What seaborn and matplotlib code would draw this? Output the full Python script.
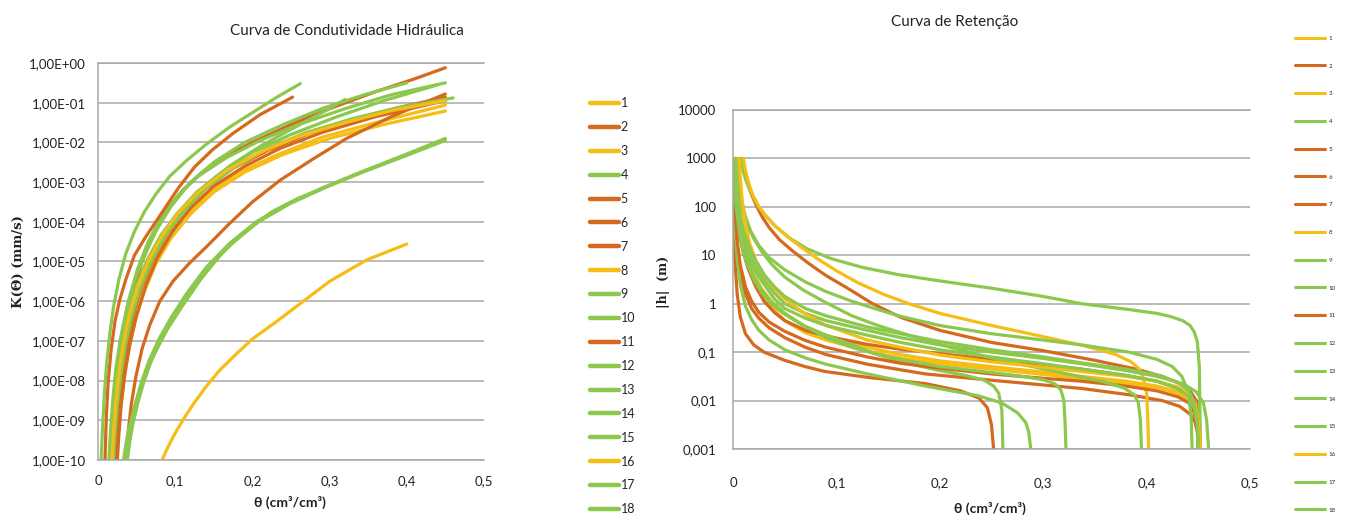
import matplotlib
matplotlib.use("Agg")
import matplotlib.pyplot as plt
import pandas as pd
import seaborn as sns

# sample ids and their colours (as in the legend)
samples = [str(i) for i in range(1, 19)]
YEL, ORA, GRN = "#F6BD16", "#D5691D", "#8CC84E"
sample_colors = [YEL, ORA, YEL, GRN, ORA, ORA, ORA, YEL, GRN,
                 GRN, ORA, GRN, GRN, GRN, GRN, YEL, GRN, GRN]

# conductivity curves: theta and log10 of K (mm/s)
cond_theta = {
    "1": [0.02, 0.022, 0.025, 0.03, 0.036, 0.044, 0.055, 0.068, 0.085, 0.11, 0.14, 0.18, 0.23, 0.29, 0.36, 0.45],
    "2": [0.02, 0.022, 0.025, 0.03, 0.036, 0.045, 0.057, 0.072, 0.09, 0.11, 0.135, 0.165, 0.2, 0.25, 0.3,
          0.36, 0.41, 0.45],
    "3": [0.024, 0.026, 0.029, 0.034, 0.04, 0.048, 0.06, 0.075, 0.095, 0.12, 0.15, 0.19, 0.24, 0.3, 0.37, 0.45],
    "4": [0.015, 0.017, 0.02, 0.025, 0.031, 0.04, 0.051, 0.065, 0.083, 0.105, 0.13, 0.165, 0.21, 0.26, 0.32,
          0.38, 0.45],
    "5": [0.009, 0.0105, 0.013, 0.017, 0.022, 0.028, 0.036, 0.047, 0.061, 0.08, 0.104, 0.125, 0.148, 0.175,
          0.21, 0.252],
    "6": [0.036, 0.039, 0.043, 0.049, 0.057, 0.067, 0.08, 0.097, 0.118, 0.142, 0.17, 0.2, 0.236, 0.28, 0.322,
          0.38, 0.45],
    "7": [0.025, 0.027, 0.03, 0.035, 0.041, 0.05, 0.062, 0.077, 0.096, 0.12, 0.15, 0.19, 0.236, 0.29, 0.36, 0.45],
    "8": [0.083, 0.088, 0.095, 0.103, 0.113, 0.125, 0.14, 0.157, 0.178, 0.2, 0.23, 0.262, 0.3, 0.348, 0.40],
    "9": [0.004, 0.0055, 0.008, 0.011, 0.015, 0.02, 0.027, 0.036, 0.047, 0.06, 0.075, 0.093, 0.115, 0.14,
          0.17, 0.2, 0.23, 0.262],
    "10": [0.033, 0.036, 0.04, 0.046, 0.054, 0.063, 0.075, 0.09, 0.11, 0.133, 0.16, 0.19, 0.225, 0.26, 0.287],
    "11": [0.022, 0.024, 0.027, 0.032, 0.038, 0.046, 0.057, 0.071, 0.089, 0.112, 0.14, 0.175, 0.22, 0.27,
           0.33, 0.39, 0.45],
    "12": [0.015, 0.017, 0.02, 0.024, 0.03, 0.038, 0.048, 0.06, 0.075, 0.093, 0.115, 0.14, 0.17, 0.21, 0.255,
           0.29, 0.32],
    "13": [0.014, 0.016, 0.019, 0.023, 0.029, 0.037, 0.047, 0.06, 0.076, 0.095, 0.12, 0.15, 0.19, 0.24, 0.29,
           0.345, 0.4],
    "14": [0.016, 0.018, 0.021, 0.025, 0.031, 0.039, 0.05, 0.064, 0.081, 0.102, 0.128, 0.16, 0.2, 0.25, 0.31,
           0.37, 0.44],
    "15": [0.02, 0.022, 0.025, 0.03, 0.036, 0.044, 0.055, 0.069, 0.087, 0.11, 0.14, 0.175, 0.22, 0.27, 0.33,
           0.39, 0.46],
    "16": [0.018, 0.02, 0.023, 0.027, 0.033, 0.041, 0.052, 0.066, 0.083, 0.105, 0.133, 0.167, 0.21, 0.26, 0.32,
           0.38, 0.45],
    "17": [0.035, 0.038, 0.042, 0.048, 0.056, 0.066, 0.079, 0.095, 0.115, 0.14, 0.17, 0.205, 0.245, 0.29, 0.34,
           0.395, 0.45],
    "18": [0.038, 0.041, 0.045, 0.051, 0.059, 0.069, 0.082, 0.098, 0.118, 0.143, 0.173, 0.208, 0.248, 0.293,
           0.343, 0.397, 0.45],
}
cond_log10k = {
    "1": [-10, -9.4, -8.8, -7.9, -7.2, -6.5, -5.75, -5.15, -4.55, -3.9, -3.33, -2.78, -2.33, -1.87, -1.5, -1.06],
    "2": [-10, -9.3, -8.5, -7.5, -6.7, -5.8, -5.0, -4.3, -3.7, -3.2, -2.75, -2.35, -2.0, -1.55, -1.15, -0.72,
          -0.4, -0.12],
    "3": [-10, -9.4, -8.7, -7.9, -7.2, -6.5, -5.75, -5.05, -4.4, -3.8, -3.25, -2.75, -2.3, -1.9, -1.55, -1.21],
    "4": [-10, -9.3, -8.5, -7.6, -6.8, -5.95, -5.2, -4.5, -3.85, -3.3, -2.85, -2.4, -1.95, -1.55, -1.15, -0.8, -0.5],
    "5": [-10, -9.0, -8.06, -7.2, -6.5, -5.97, -5.45, -4.85, -4.4, -3.85, -3.15, -2.62, -2.19, -1.77, -1.3, -0.86],
    "6": [-10, -9.3, -8.6, -7.9, -7.2, -6.6, -6.0, -5.5, -5.05, -4.6, -4.05, -3.5, -2.95, -2.4, -1.9, -1.35, -0.78],
    "7": [-10, -9.35, -8.6, -7.8, -7.1, -6.35, -5.6, -4.9, -4.25, -3.65, -3.1, -2.6, -2.15, -1.75, -1.35, -0.95],
    "8": [-10, -9.78, -9.5, -9.22, -8.9, -8.55, -8.15, -7.75, -7.35, -6.95, -6.53, -6.06, -5.5, -4.96, -4.56],
    "9": [-10, -9.3, -8.4, -7.6, -6.85, -6.15, -5.45, -4.8, -4.25, -3.75, -3.3, -2.85, -2.45, -2.05, -1.62,
          -1.25, -0.88, -0.52],
    "10": [-10, -9.6, -9.2, -8.75, -8.25, -7.75, -7.25, -6.7, -6.1, -5.45, -4.8, -4.25, -3.75, -3.4, -3.2],
    "11": [-10, -9.35, -8.6, -7.8, -7.05, -6.3, -5.6, -4.95, -4.3, -3.7, -3.15, -2.65, -2.2, -1.8, -1.42,
           -1.12, -0.86],
    "12": [-10, -9.3, -8.5, -7.75, -7.0, -6.3, -5.7, -5.2, -4.7, -4.15, -3.6, -3.1, -2.6, -2.1, -1.62, -1.25, -0.92],
    "13": [-10, -9.3, -8.5, -7.7, -6.95, -6.2, -5.5, -4.85, -4.2, -3.6, -3.0, -2.5, -2.0, -1.55, -1.15, -0.8, -0.5],
    "14": [-10, -9.3, -8.5, -7.75, -7.0, -6.3, -5.6, -4.95, -4.35, -3.8, -3.25, -2.75, -2.25, -1.8, -1.35,
           -0.95, -0.55],
    "15": [-10, -9.35, -8.6, -7.8, -7.05, -6.35, -5.65, -5.0, -4.35, -3.75, -3.15, -2.65, -2.15, -1.75, -1.4,
           -1.12, -0.88],
    "16": [-10, -9.3, -8.55, -7.8, -7.05, -6.3, -5.6, -4.95, -4.35, -3.75, -3.2, -2.7, -2.25, -1.85, -1.5,
           -1.2, -0.95],
    "17": [-10, -9.55, -9.1, -8.6, -8.05, -7.5, -6.95, -6.4, -5.8, -5.15, -4.55, -4.0, -3.55, -3.15, -2.75,
           -2.33, -1.9],
    "18": [-10, -9.55, -9.1, -8.6, -8.05, -7.5, -6.95, -6.4, -5.8, -5.15, -4.55, -4.0, -3.55, -3.15, -2.75,
           -2.35, -1.95],
}

# retention curves: theta and log10 of |h| (m)
ret_theta = {
    "1": [0.004, 0.005, 0.007, 0.01, 0.015, 0.02, 0.028, 0.038, 0.05, 0.07, 0.09, 0.13, 0.162, 0.2, 0.25, 0.3,
          0.337, 0.38, 0.41, 0.43, 0.441, 0.447, 0.45, 0.452],
    "2": [0.008, 0.01, 0.013, 0.017, 0.022, 0.028, 0.035, 0.045, 0.057, 0.072, 0.09, 0.11, 0.135, 0.162, 0.2,
          0.25, 0.3, 0.35, 0.39, 0.415, 0.432, 0.442, 0.448, 0.451, 0.452],
    "3": [0.002, 0.003, 0.005, 0.008, 0.012, 0.017, 0.022, 0.03, 0.04, 0.05, 0.07, 0.09, 0.13, 0.162, 0.2, 0.25,
          0.3, 0.337, 0.38, 0.41, 0.43, 0.441, 0.446, 0.449, 0.45],
    "4": [0.007, 0.009, 0.012, 0.016, 0.02, 0.025, 0.031, 0.041, 0.055, 0.072, 0.095, 0.125, 0.16, 0.2, 0.25,
          0.3, 0.337, 0.383, 0.41, 0.424, 0.435, 0.442, 0.446, 0.449, 0.451, 0.452],
    "5": [0.0, 0.0005, 0.001, 0.002, 0.004, 0.007, 0.012, 0.02, 0.03, 0.05, 0.07, 0.089, 0.13, 0.186, 0.22,
          0.238, 0.246, 0.25, 0.252],
    "6": [0.0, 0.001, 0.003, 0.006, 0.01, 0.015, 0.022, 0.03, 0.04, 0.05, 0.07, 0.09, 0.13, 0.162, 0.2, 0.25,
          0.3, 0.337, 0.38, 0.41, 0.43, 0.441, 0.447, 0.45, 0.451],
    "7": [0.0, 0.001, 0.002, 0.004, 0.007, 0.012, 0.018, 0.025, 0.035, 0.05, 0.07, 0.09, 0.13, 0.186, 0.25,
          0.337, 0.383, 0.415, 0.432, 0.442, 0.447, 0.449, 0.45],
    "8": [0.01, 0.012, 0.015, 0.019, 0.025, 0.032, 0.041, 0.057, 0.08, 0.1, 0.121, 0.145, 0.17, 0.2, 0.25, 0.3,
          0.34, 0.37, 0.385, 0.393, 0.397, 0.4, 0.401, 0.402],
    "9": [0.0, 0.001, 0.003, 0.006, 0.01, 0.015, 0.02, 0.028, 0.038, 0.05, 0.068, 0.09, 0.115, 0.14, 0.162,
          0.2, 0.225, 0.243, 0.252, 0.257, 0.26, 0.261],
    "10": [0.0, 0.001, 0.002, 0.004, 0.007, 0.012, 0.018, 0.025, 0.035, 0.05, 0.07, 0.09, 0.13, 0.186, 0.237,
           0.26, 0.275, 0.283, 0.286, 0.288],
    "11": [0.0, 0.001, 0.002, 0.004, 0.007, 0.012, 0.018, 0.025, 0.035, 0.05, 0.07, 0.09, 0.13, 0.162, 0.2,
           0.25, 0.3, 0.337, 0.38, 0.41, 0.43, 0.441, 0.446, 0.449, 0.45],
    "12": [0.0, 0.001, 0.003, 0.006, 0.01, 0.015, 0.02, 0.028, 0.038, 0.05, 0.068, 0.09, 0.115, 0.14, 0.162,
           0.2, 0.25, 0.28, 0.3, 0.311, 0.317, 0.32, 0.321, 0.322],
    "13": [0.002, 0.004, 0.006, 0.009, 0.013, 0.02, 0.028, 0.038, 0.05, 0.068, 0.09, 0.115, 0.14, 0.17, 0.21,
           0.25, 0.29, 0.33, 0.36, 0.378, 0.388, 0.392, 0.394, 0.395],
    "14": [0.003, 0.005, 0.008, 0.012, 0.017, 0.025, 0.035, 0.05, 0.07, 0.09, 0.115, 0.14, 0.162, 0.2, 0.25,
           0.3, 0.337, 0.383, 0.41, 0.425, 0.434, 0.44, 0.443, 0.444],
    "15": [0.0, 0.001, 0.003, 0.006, 0.01, 0.015, 0.022, 0.03, 0.04, 0.05, 0.07, 0.09, 0.13, 0.162, 0.2, 0.25,
           0.3, 0.337, 0.38, 0.41, 0.435, 0.448, 0.455, 0.458, 0.46],
    "16": [0.006, 0.007, 0.009, 0.012, 0.016, 0.022, 0.03, 0.04, 0.05, 0.07, 0.09, 0.13, 0.162, 0.2, 0.25, 0.3,
           0.337, 0.38, 0.41, 0.43, 0.441, 0.447, 0.45, 0.452],
    "17": [0.0, 0.001, 0.003, 0.006, 0.01, 0.015, 0.022, 0.03, 0.04, 0.05, 0.07, 0.09, 0.13, 0.162, 0.2, 0.25,
           0.3, 0.337, 0.38, 0.41, 0.43, 0.441, 0.446, 0.449, 0.45],
    "18": [0.001, 0.002, 0.004, 0.007, 0.011, 0.016, 0.022, 0.03, 0.04, 0.05, 0.07, 0.09, 0.13, 0.162, 0.2,
           0.25, 0.3, 0.337, 0.38, 0.41, 0.43, 0.441, 0.446, 0.449, 0.45],
}
ret_log10h = {
    "1": [3, 2.5, 1.9, 1.45, 0.95, 0.62, 0.3, 0.03, -0.2, -0.47, -0.65, -0.9, -1.05, -1.18, -1.3, -1.41, -1.5,
          -1.6, -1.7, -1.82, -1.95, -2.15, -2.45, -3],
    "2": [3, 2.8, 2.55, 2.3, 2.05, 1.8, 1.57, 1.32, 1.1, 0.85, 0.58, 0.33, 0.0, -0.28, -0.55, -0.8, -0.97,
          -1.17, -1.35, -1.5, -1.65, -1.8, -2.0, -2.4, -3],
    "3": [3, 2.5, 2.0, 1.5, 1.1, 0.75, 0.5, 0.15, -0.13, -0.35, -0.6, -0.75, -0.98, -1.12, -1.24, -1.35, -1.46,
          -1.55, -1.64, -1.73, -1.85, -2.0, -2.2, -2.5, -3],
    "4": [3, 2.8, 2.58, 2.36, 2.18, 2.0, 1.83, 1.6, 1.35, 1.13, 0.93, 0.75, 0.6, 0.47, 0.32, 0.15, 0.0, -0.12,
          -0.2, -0.27, -0.35, -0.45, -0.58, -0.78, -1.3, -3],
    "5": [3, 2.2, 1.5, 0.85, 0.2, -0.27, -0.62, -0.85, -1.0, -1.17, -1.3, -1.4, -1.52, -1.65, -1.8, -1.95,
          -2.15, -2.5, -3],
    "6": [3, 2.6, 2.0, 1.45, 1.05, 0.7, 0.35, 0.05, -0.18, -0.35, -0.55, -0.67, -0.84, -0.94, -1.03, -1.15,
          -1.26, -1.35, -1.48, -1.6, -1.75, -1.9, -2.1, -2.4, -3],
    "7": [3, 2.4, 1.8, 1.2, 0.65, 0.2, -0.1, -0.3, -0.5, -0.7, -0.9, -1.05, -1.25, -1.45, -1.58, -1.75, -1.88,
          -2.0, -2.12, -2.28, -2.45, -2.65, -3],
    "8": [3, 2.75, 2.5, 2.25, 2.0, 1.8, 1.6, 1.31, 0.95, 0.68, 0.43, 0.2, 0.0, -0.2, -0.45, -0.68, -0.87,
          -1.05, -1.2, -1.35, -1.55, -1.85, -2.3, -3],
    "9": [3, 2.5, 1.9, 1.45, 1.05, 0.75, 0.5, 0.22, -0.02, -0.22, -0.45, -0.65, -0.85, -1.05, -1.2, -1.38,
          -1.48, -1.58, -1.7, -1.85, -2.2, -3],
    "10": [3, 2.2, 1.6, 0.95, 0.4, -0.05, -0.33, -0.55, -0.75, -0.95, -1.12, -1.25, -1.45, -1.7, -1.9, -2.05,
           -2.25, -2.45, -2.65, -3],
    "11": [3, 2.5, 1.9, 1.3, 0.8, 0.35, 0.05, -0.18, -0.38, -0.57, -0.76, -0.9, -1.1, -1.23, -1.33, -1.45,
           -1.54, -1.6, -1.7, -1.8, -1.92, -2.05, -2.25, -2.55, -3],
    "12": [3, 2.6, 2.0, 1.5, 1.1, 0.8, 0.55, 0.27, 0.02, -0.2, -0.45, -0.7, -0.9, -1.05, -1.15, -1.3, -1.42,
           -1.5, -1.57, -1.65, -1.78, -2.0, -2.4, -3],
    "13": [3, 2.6, 2.3, 1.95, 1.65, 1.35, 1.07, 0.8, 0.55, 0.28, 0.02, -0.25, -0.45, -0.65, -0.9, -1.12, -1.3,
           -1.48, -1.62, -1.74, -1.88, -2.05, -2.4, -3],
    "14": [3, 2.55, 2.15, 1.8, 1.5, 1.2, 0.95, 0.7, 0.45, 0.25, 0.05, -0.12, -0.26, -0.45, -0.62, -0.75, -0.85,
           -1.0, -1.15, -1.3, -1.5, -1.8, -2.3, -3],
    "15": [3, 2.6, 2.15, 1.7, 1.35, 1.05, 0.75, 0.5, 0.22, 0.0, -0.2, -0.35, -0.55, -0.7, -0.85, -1.0, -1.13,
           -1.24, -1.38, -1.5, -1.65, -1.82, -2.05, -2.4, -3],
    "16": [3, 2.6, 2.1, 1.65, 1.25, 0.9, 0.6, 0.32, 0.1, -0.22, -0.45, -0.75, -0.9, -1.06, -1.2, -1.31, -1.4,
           -1.5, -1.6, -1.72, -1.87, -2.05, -2.4, -3],
    "17": [3, 2.55, 2.05, 1.6, 1.25, 0.95, 0.65, 0.4, 0.1, -0.1, -0.3, -0.45, -0.65, -0.8, -0.95, -1.1, -1.24,
           -1.35, -1.48, -1.6, -1.75, -1.92, -2.15, -2.5, -3],
    "18": [3, 2.6, 2.2, 1.8, 1.45, 1.15, 0.88, 0.6, 0.35, 0.15, -0.1, -0.25, -0.48, -0.62, -0.78, -0.95, -1.1,
           -1.22, -1.35, -1.47, -1.62, -1.8, -2.05, -2.4, -3],
}

x_ticks = [0, 0.1, 0.2, 0.3, 0.4, 0.5]
x_tick_labels = ["0", "0,1", "0,2", "0,3", "0,4", "0,5"]
k_ticks = [1e-10, 1e-9, 1e-8, 1e-7, 1e-6, 1e-5, 1e-4, 1e-3, 1e-2, 1e-1, 1e0]
k_tick_labels = ["1,00E-10", "1,00E-09", "1,00E-08", "1,00E-07", "1,00E-06", "1,00E-05",
                 "1,00E-04", "1,00E-03", "1,00E-02", "1,00E-01", "1,00E+00"]
h_ticks = [0.001, 0.01, 0.1, 1, 10, 100, 1000, 10000]
h_tick_labels = ["0,001", "0,01", "0,1", "1", "10", "100", "1000", "10000"]

palette = dict(zip(samples, sample_colors))

cond_df = pd.concat(
    [pd.DataFrame({"sample": s, "theta": cond_theta[s],
                   "K": [10 ** v for v in cond_log10k[s]]}) for s in samples]
)
ret_df = pd.concat(
    [pd.DataFrame({"sample": s, "theta": ret_theta[s],
                   "h": [10 ** v for v in ret_log10h[s]]}) for s in samples]
)

sns.set_style("white")
plt.rcParams["font.family"] = ["Lato", "DejaVu Sans"]

fig = plt.figure(figsize=(13.47, 5.21), dpi=100)
ax1 = fig.add_axes([0.0728, 0.1171, 0.2865, 0.762])
ax2 = fig.add_axes([0.5442, 0.1382, 0.3838, 0.6507])

grid_c = "#a8a8a8"


def style_axis(ax, yticks, ylabels, ylim, xpad, ypad):
    ax.set_yscale("log")
    ax.set_xlim(0, 0.5)
    ax.set_ylim(*ylim)
    ax.set_yticks(yticks)
    ax.set_yticklabels(ylabels)
    ax.minorticks_off()
    ax.set_xticks(x_ticks)
    ax.set_xticklabels(x_tick_labels)
    ax.tick_params(axis="both", length=0, labelsize=9.5, colors="#222222")
    ax.tick_params(axis="x", pad=xpad)
    ax.tick_params(axis="y", pad=ypad)
    ax.yaxis.grid(True, color=grid_c, lw=1.1)
    ax.xaxis.grid(False)
    ax.spines["right"].set_visible(False)
    for s in ["left", "top", "bottom"]:
        ax.spines[s].set_color(grid_c)
        ax.spines[s].set_linewidth(1.1)
    ax.set_xlabel("")
    ax.set_ylabel("")


sns.lineplot(data=cond_df, x="theta", y="K", hue="sample", hue_order=samples,
             palette=palette, estimator=None, sort=False, lw=2.3, ax=ax1)
style_axis(ax1, k_ticks, k_tick_labels, (1e-10, 1), 11, 9)

sns.lineplot(data=ret_df, x="theta", y="h", hue="sample", hue_order=samples,
             palette=palette, estimator=None, sort=False, lw=2.3, ax=ax2)
style_axis(ax2, h_ticks, h_tick_labels, (0.001, 10000), 20, 12)

handles, labels = ax1.get_legend_handles_labels()
ax1.get_legend().remove()
ax2.get_legend().remove()

leg1 = fig.legend(handles, labels, loc="upper left", bbox_to_anchor=(0.438, 0.813),
                  frameon=False, fontsize=9, handlelength=2.3, handletextpad=0.15,
                  labelspacing=0.95, borderpad=0, borderaxespad=0)
for ln in leg1.get_lines():
    ln.set_linewidth(3.2)

leg2 = fig.legend(handles, labels, loc="upper left", bbox_to_anchor=(0.9614, 0.932),
                  frameon=False, fontsize=4.5, handlelength=4.8, handletextpad=0.6,
                  labelspacing=3.58, borderpad=0, borderaxespad=0)
for ln in leg2.get_lines():
    ln.set_linewidth(2.2)

fig.text(347 / 1347, 1 - 31 / 521, "Curva de Condutividade Hidráulica", ha="center",
         va="center", fontsize=11, color="#222222")
fig.text(955 / 1347, 1 - 22 / 521, "Curva de Retenção", ha="center", va="center",
         fontsize=11, color="#222222")
fig.text(290 / 1347, 1 - 502 / 521, "θ (cm³/cm³)", ha="center", va="center",
         fontsize=10, fontweight="bold", color="#222222")
fig.text(990 / 1347, 1 - 508 / 521, "θ (cm³/cm³)", ha="center", va="center",
         fontsize=10, fontweight="bold", color="#222222")
fig.text(18 / 1347, 1 - 262 / 521, "K(Θ) (mm/s)", rotation=90, ha="center", va="center",
         fontsize=9.5, fontweight="bold", family="DejaVu Serif", color="#222222")
fig.text(663 / 1347, 1 - 282 / 521, "|h|  (m)", rotation=90, ha="center", va="center",
         fontsize=9, fontweight="bold", family="DejaVu Serif", color="#222222")

fig.savefig("out.png", dpi=100)
